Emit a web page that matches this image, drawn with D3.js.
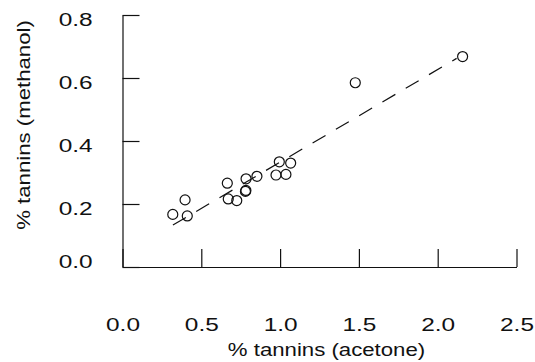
<!DOCTYPE html>
<html>
<head>
<meta charset="utf-8">
<script src="https://cdn.jsdelivr.net/npm/d3@7"></script>
<style>
  html, body { margin: 0; padding: 0; background: #fff; }
  svg { display: block; }
  text { font-family: "Liberation Sans", Arial, Helvetica, sans-serif; fill: #111; }
</style>
</head>
<body>
<svg id="chart" width="535" height="362"></svg>
<script>
// Data
const acetone  = [0.319, 0.397, 0.411, 0.665, 0.671, 0.725, 0.784, 0.780, 0.783, 0.853, 0.995, 0.974, 1.037, 1.067, 1.477, 2.158];
const methanol = [0.167, 0.213, 0.162, 0.266, 0.216, 0.211, 0.280, 0.240, 0.243, 0.288, 0.334, 0.292, 0.294, 0.330, 0.585, 0.668];
const fitX = [0.32, 2.12];
const fitSlope = 0.294;
const fitIntercept = 0.039;
const xTicks = [0.0, 0.5, 1.0, 1.5, 2.0, 2.5];
const yTicks = [0.0, 0.2, 0.4, 0.6, 0.8];
const xTitle = "% tannins (acetone)";
const yTitle = "% tannins (methanol)";

const svg = d3.select("#chart");
const x = d3.scaleLinear().domain([0, 2.5]).range([122.5, 516.5]);
const y = d3.scaleLinear().domain([0, 0.8]).range([267, 15]);

const ink = "#111";

// X axis
const gx = svg.append("g").attr("transform", `translate(0,${y(0)})`)
  .call(d3.axisBottom(x).tickValues(xTicks).tickFormat(d3.format(".1f")).tickSizeInner(-18).tickSizeOuter(0));
gx.select(".domain").attr("stroke", ink).attr("stroke-width", 1.2);
gx.selectAll(".tick line").attr("stroke", ink).attr("stroke-width", 1.2);
gx.selectAll(".tick text")
  .attr("y", 64.5).attr("dy", 0)
  .attr("font-size", 18.5)
  .attr("fill", ink)
  .attr("transform", "scale(1.32,1)");

// Y axis
const gy = svg.append("g").attr("transform", `translate(${x(0)},0)`)
  .call(d3.axisLeft(y).tickValues(yTicks).tickFormat(d3.format(".1f")).tickSizeInner(-17).tickSizeOuter(0));
gy.select(".domain").attr("stroke", ink).attr("stroke-width", 1.2);
gy.selectAll(".tick line").attr("stroke", ink).attr("stroke-width", 1.2);
gy.selectAll(".tick text")
  .attr("x", -22.6).attr("dy", 0)
  .attr("y", d => d === 0 ? 0 : 10.3)
  .attr("font-size", 18.5)
  .attr("fill", ink)
  .attr("transform", "scale(1.32,1)");
svg.selectAll(".tick text").attr("font-family", null);
svg.selectAll("g").attr("font-family", null);

// Fitted dashed line
const line = d3.line().x(d => x(d)).y(d => y(fitIntercept + fitSlope * d));
svg.append("path")
  .datum(fitX)
  .attr("d", line)
  .attr("fill", "none")
  .attr("stroke", ink)
  .attr("stroke-width", 1.2)
  .attr("stroke-dasharray", "15,12");

// Points
svg.append("g").selectAll("circle")
  .data(acetone.map((a, i) => [a, methanol[i]]))
  .join("circle")
  .attr("cx", d => x(d[0]))
  .attr("cy", d => y(d[1]))
  .attr("r", 5)
  .attr("fill", "#fff")
  .attr("fill-opacity", 0)
  .attr("stroke", ink)
  .attr("stroke-width", 1.2);

// Titles
svg.append("text")
  .attr("transform", "translate(326.5,356) scale(1.2,1)")
  .attr("text-anchor", "middle")
  .attr("font-size", 18.5)
  .text(xTitle);

svg.append("text")
  .attr("transform", "translate(29.5,125) rotate(-90) scale(1.2,1)")
  .attr("text-anchor", "middle")
  .attr("font-size", 18.5)
  .text(yTitle);
</script>
</body>
</html>
